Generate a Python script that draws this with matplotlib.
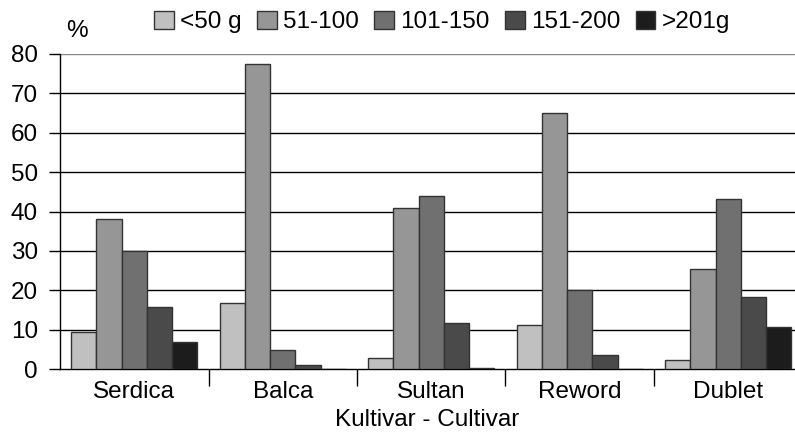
import numpy as np
import matplotlib.pyplot as plt
from matplotlib.patches import Patch

plt.rcParams['font.family'] = ['Liberation Sans', 'DejaVu Sans']

cultivars = ['Serdica', 'Balca', 'Sultan', 'Reword', 'Dublet']
classes = ['<50 g', '51-100', '101-150', '151-200', '>201g']
lt50 = [9.3, 16.7, 2.7, 11.3, 2.4]
g51_100 = [38.0, 77.5, 41.0, 65.0, 25.5]
g101_150 = [30.0, 4.8, 44.0, 20.0, 43.3]
g151_200 = [15.7, 1.0, 11.6, 3.6, 18.2]
gt201 = [6.9, 0.0, 0.3, 0.0, 10.7]
series = [lt50, g51_100, g101_150, g151_200, gt201]
colors = ['#c0c0c0', '#969696', '#707070', '#4a4a4a', '#1c1c1c']

fs = 17.5

fig = plt.figure(figsize=(7.95, 4.34), dpi=100)
ax = fig.add_axes([60 / 795, 65 / 434, 1 - 60 / 795, 315 / 434])

x = np.arange(len(cultivars))
w = 0.17
for i, vals in enumerate(series):
    ax.bar(x + (i - 2) * w, vals, width=w, color=colors[i], edgecolor='#333333',
           linewidth=1.0, zorder=3)

ax.set_ylim(0, 80)
ax.set_xlim(-0.5, 4.5 - 7.5 / 148.5)
ax.set_yticks(range(0, 81, 10))
for v in range(10, 81, 10):
    ax.axhline(v, color='#888888' if v == 80 else 'black', linewidth=1.0, zorder=1)

ax.set_xticks(x)
ax.set_xticklabels(cultivars)
ax.set_xticks(np.arange(0.5, 4.5, 1), minor=True)
ax.tick_params(axis='x', which='major', length=0, labelsize=fs, pad=9)
ax.tick_params(axis='x', which='minor', length=12, width=1, direction='out')
ax.tick_params(axis='y', length=8, width=1, labelsize=fs, pad=8)

for s in ['top', 'right']:
    ax.spines[s].set_visible(False)
ax.spines['left'].set_linewidth(1.0)
ax.spines['bottom'].set_linewidth(1.0)

ax.set_xlabel('Kultivar - Cultivar', fontsize=fs, labelpad=4)
fig.text(77 / 795, 1 - 31 / 434, '%', fontsize=fs, ha='center', va='center')

handles = [Patch(facecolor=c, edgecolor='#333333', linewidth=1.0) for c in colors]
fig.legend(handles, classes, loc='center', bbox_to_anchor=(0.556, 1 - 22 / 434), ncol=5,
           frameon=False, fontsize=fs, handlelength=0.8, handleheight=0.8,
           handletextpad=0.25, columnspacing=0.65, borderpad=0, borderaxespad=0)

fig.savefig('out.png', dpi=100)
